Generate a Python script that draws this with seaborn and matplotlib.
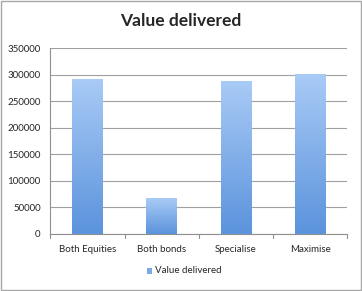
import numpy as np
import pandas as pd
import matplotlib
matplotlib.use("Agg")
import matplotlib.pyplot as plt
import seaborn as sns
from matplotlib.colors import LinearSegmentedColormap
from matplotlib.patches import Rectangle

categories = ["Both Equities", "Both bonds", "Specialise", "Maximise"]
values = [293000, 67000, 289000, 302000]
series_name = "Value delivered"
yticks = [0, 50000, 100000, 150000, 200000, 250000, 300000, 350000]

sns.set_style("white")
plt.rcParams['font.family'] = ['Lato', 'DejaVu Sans']

df = pd.DataFrame({"category": categories, "value": values})

fig = plt.figure(figsize=(3.62, 2.91), dpi=100)
ax = fig.add_axes([0.139, 0.196, 0.820, 0.638])

sns.barplot(data=df, x="category", y="value", ax=ax, color="#6fa3e6",
            width=0.41, saturation=1, zorder=3)

cmap = LinearSegmentedColormap.from_list("g", ["#5b93dc", "#a9cbf6"])
grad = np.linspace(0, 1, 256).reshape(-1, 1)
for p in ax.patches:
    x0, y0 = p.get_x(), p.get_y()
    w, h = p.get_width(), p.get_height()
    p.set_facecolor("none")
    p.set_edgecolor("none")
    im = ax.imshow(grad, cmap=cmap, aspect="auto", origin="lower",
                   extent=[x0, x0 + w, y0, y0 + h], zorder=3)
    im.set_clip_path(p)

ax.set_xlim(-0.5, 3.5)
ax.set_ylim(0, 350000)
ax.set_yticks(yticks)
ax.set_yticklabels([str(v) for v in yticks], fontsize=7)
ax.set_xticks(range(len(categories)))
ax.set_xticklabels(categories, fontsize=7)
ax.set_xlabel("")
ax.set_ylabel("")
ax.grid(axis="y", color="#a0a0a0", linewidth=0.8, zorder=0)
for s in ["top", "right"]:
    ax.spines[s].set_visible(False)
for s in ["left", "bottom"]:
    ax.spines[s].set_color("#909090")
    ax.spines[s].set_linewidth(0.8)
ax.tick_params(axis="y", length=3, color="#909090", pad=4)
ax.tick_params(axis="x", length=0, pad=8)
# category-boundary ticks on x axis
for b in np.arange(-0.5, 4.0, 1.0):
    ax.plot([b, b], [0, -7000], color="#909090", lw=0.8, clip_on=False)

fig.suptitle("Value delivered", fontsize=12.5, fontweight="bold", y=0.955)

# legend
lx, ly = 0.405, 0.060
fig.patches.append(Rectangle((lx, ly), 0.016, 0.02, transform=fig.transFigure,
                             facecolor="#7aa9e6", edgecolor="none"))
fig.text(lx + 0.022, ly + 0.01, series_name, fontsize=7, va="center", ha="left")

# figure border
fig.patches.append(Rectangle((0.004, 0.004), 0.992, 0.992, transform=fig.transFigure,
                             facecolor="none", edgecolor="#a8a8a8", linewidth=1))

fig.savefig("out.png", dpi=100)
